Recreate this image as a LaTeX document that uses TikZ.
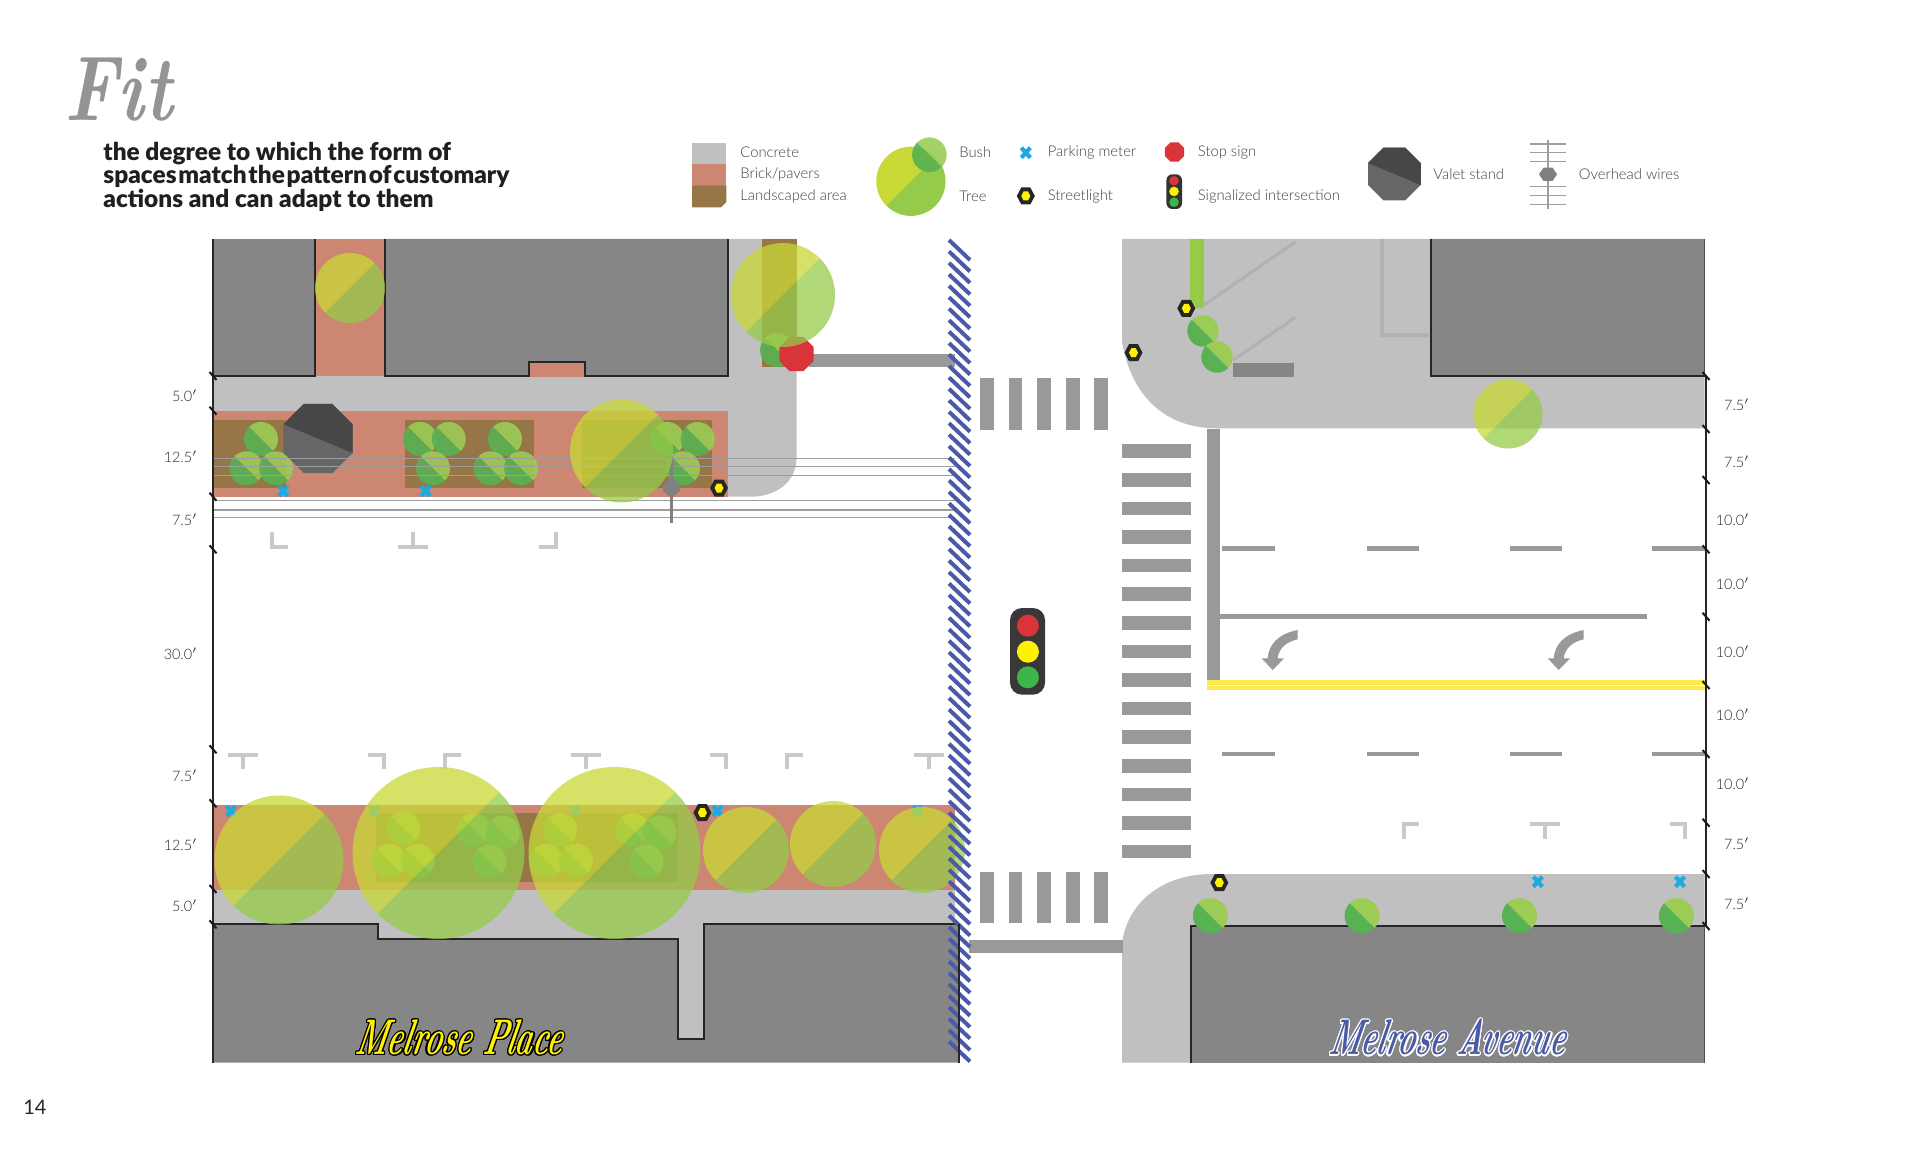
\documentclass[tikz,border=0pt]{standalone}
\usepackage{fontspec}
\usepackage[copies]{contour}
\setmainfont{Lato}
\newfontfamily\lightfont{Lato Light}
\newfontfamily\blackfont{Lato Black}
\newfontfamily\titleface{Latin Modern Roman}[FakeStretch=0.8]
\newfontfamily\nameface{Latin Modern Roman}[FakeStretch=0.585, FakeSlant=0.2]
\usetikzlibrary{calc}
\definecolor{concrete}{HTML}{C0C0C0}
\definecolor{brick}{HTML}{CC8672}
\definecolor{landscaped}{HTML}{967547}
\definecolor{building}{HTML}{868686}
\definecolor{marking}{HTML}{999999}
\definecolor{stall}{HTML}{C9C9C9}
\definecolor{hatchblue}{HTML}{4A5AA8}
\definecolor{treeA}{HTML}{C8D935}
\definecolor{treeB}{HTML}{96CB4A}
\definecolor{bushA}{HTML}{9CCC56}
\definecolor{bushB}{HTML}{58B153}
\definecolor{meterblue}{HTML}{1FA9E1}
\definecolor{stopred}{HTML}{D9343A}
\definecolor{signalgreen}{HTML}{3DB54A}
\definecolor{laneyellow}{HTML}{FBE94F}
\tikzset{
	legendtext/.style={anchor=west, text=black!75, font=\lightfont\fontsize{7.4}{9}\selectfont, inner sep=0pt},
	dimtext/.style={anchor=east, text=black!85, font=\lightfont\fontsize{7.2}{9}\selectfont, inner sep=0pt},
	nametext/.style={inner sep=0pt, font=\nameface\bfseries\itshape\fontsize{25}{25}\selectfont},
	wireline/.style={line width=0.6pt, color=black!38},
	stallmark/.style={line width=2pt, color=stall},
	edgeline/.style={line width=1pt, color=black!85}
}
\def\treemark[#1](#2,#3)(#4){
	\fill[treeA, opacity=#1] ($(#2,#3)+(-45:#4)$) arc (-45:-225:#4) -- cycle;
	\fill[treeB, opacity=#1] ($(#2,#3)+(-45:#4)$) arc (-45:135:#4) -- cycle;
}
\def\bushmark[#1](#2,#3)(#4){
	\fill[bushA, opacity=#1] ($(#2,#3)+(45:#4)$) arc (45:-135:#4) -- cycle;
	\fill[bushB, opacity=#1] ($(#2,#3)+(45:#4)$) arc (45:225:#4) -- cycle;
}
\def\metermark(#1,#2){
	\draw[line width=2.1pt, color=meterblue] (#1-4.5,#2-5) -- (#1+4.5,#2+5) (#1-4.5,#2+5) -- (#1+4.5,#2-5);
}
\def\lightmark(#1,#2){
	\fill[black!85] (#1-9,#2) -- (#1-4.5,#2-8.5) -- (#1+4.5,#2-8.5) -- (#1+9,#2) -- (#1+4.5,#2+8.5) -- (#1-4.5,#2+8.5) -- cycle;
	\fill[yellow] (#1-4.5,#2) -- (#1-2.2,#2-4.5) -- (#1+2.2,#2-4.5) -- (#1+4.5,#2) -- (#1+2.2,#2+4.5) -- (#1-2.2,#2+4.5) -- cycle;
}
\def\octagon[#1](#2,#3)(#4){
	\fill[#1] (#2,#3)+(22.5:#4) -- +(67.5:#4) -- +(112.5:#4) -- +(157.5:#4) -- +(202.5:#4) -- +(247.5:#4) -- +(292.5:#4) -- +(337.5:#4) -- cycle;
}
\def\valetmark(#1,#2)(#3){
	\begin{scope}
		\clip (#1,#2)+(22.5:#3) -- +(67.5:#3) -- +(112.5:#3) -- +(157.5:#3) -- +(202.5:#3) -- +(247.5:#3) -- +(292.5:#3) -- +(337.5:#3) -- cycle;
		\fill[black!60] (#1-#3-5,#2-#3-5) rectangle (#1+#3+5,#2+#3+5);
		\fill[black!72] (#1-#3*1.2,#2-#3*0.5) -- (#1+#3*1.2,#2+#3*0.5) -- (#1+#3*1.2,#2-#3-5) -- (#1-#3*1.2,#2-#3-5) -- cycle;
	\end{scope}
}
\def\tick(#1,#2){
	\draw[line width=1pt, color=black!90] (#1-3.5,#2-4) -- (#1+3.5,#2+4);
}
\def\turnarrow(#1){
	\fill[marking] (#1+25,630) .. controls (#1+5,634) and (#1-4,645) .. (#1-5,658.3) -- (#1-11,658.3) -- (#1,670) -- (#1+11.5,658.3) -- (#1+5,658.3) .. controls (#1+6,649) and (#1+13,642) .. (#1+25,639.3) -- cycle;
}
\begin{document}
\begin{tikzpicture}[x=0.5pt, y=-0.5pt]
	%%%%% PAGE %%%%%
	\useasboundingbox (0, 0) rectangle (1920, 1166);
	\fill[white] (0, 0) rectangle (1920, 1166);

	\node[anchor=west, inner sep=0pt, text=black!42, font=\titleface\bfseries\itshape\fontsize{46}{46}\selectfont] (fittitle) at (64, 90) {Fit};
	\node[anchor=west, inner sep=0pt, align=left, text=black!88, font=\blackfont\fontsize{12.2}{11.8}\selectfont] (fittext) at (103, 176.5) {the degree to which the form of\\{\spaceskip=0.9pt\relax spaces match the pattern of customary}\\actions and can adapt to them};
	\node[anchor=west, inner sep=0pt, text=black!85, font=\fontsize{10}{12}\selectfont] (pagenum) at (23, 1107.5) {14};

	%%%%% LEGEND %%%%%
	\fill[concrete] (692, 142.7) rectangle (726.3, 164.3);
	\fill[brick] (692, 164.3) rectangle (726.3, 185.7);
	\fill[landscaped] (692, 185.7) -- (726.3, 185.7) -- (726.3, 202) -- (721, 207.3) -- (692, 207.3) -- cycle;
	\node[legendtext] (lconcrete) at (740, 152.5) {Concrete};
	\node[legendtext] (lbrick) at (740, 174) {Brick/pavers};
	\node[legendtext] (lland) at (740, 196) {Landscaped area};

	\treemark[1](910.9, 181.3)(34.6)
	\bushmark[0.9](929.4, 154.7)(17.3)
	\node[legendtext] (lbush) at (959, 152.5) {Bush};
	\node[legendtext] (ltree) at (959, 196) {Tree};

	\metermark(1025.8, 152.7)
	\lightmark(1025.8, 196)
	\node[legendtext] (lmeter) at (1047.4, 152.5) {Parking meter};
	\node[legendtext] (llight) at (1047.4, 196) {Streetlight};

	\octagon[stopred](1174.5, 152)(10.5)
	\fill[black!80, rounded corners=3] (1166.4, 174.3) rectangle (1182, 209);
	\fill[stopred] (1174, 180.7) circle (4.8);
	\fill[yellow] (1174, 191.4) circle (4.8);
	\fill[signalgreen] (1174, 202.2) circle (4.8);
	\node[legendtext] (lstop) at (1197.5, 152.5) {Stop sign};
	\node[legendtext] (lsignal) at (1197.5, 196) {Signalized intersection};

	\valetmark(1394.4, 174)(28.5)
	\node[legendtext] (lvalet) at (1433, 174) {Valet stand};

	\draw[wireline, line width=0.8pt] (1547.8, 140) -- (1547.8, 209.3);
	\foreach \wy in {144, 152.7, 161.3, 186.7, 195.7, 204.3} {
		\draw[wireline, line width=0.7pt] (1530.2, \wy) -- (1566, \wy);
	}
	\fill[black!50] (1539, 174.3) -- (1543.5, 167.6) -- (1552.5, 167.6) -- (1557, 174.3) -- (1552.5, 181) -- (1543.5, 181) -- cycle;
	\node[legendtext] (lwires) at (1578.5, 174) {Overhead wires};

	%%%%% LEFT BLOCKS %%%%%
	\fill[concrete] (728, 239) -- (796.5, 239) -- (796.5, 458) .. controls (796.5, 482) and (776, 496.7) .. (751, 496.7) -- (213, 496.7) -- (213, 376) -- (728, 376) -- cycle;
	\fill[landscaped] (761.5, 239) rectangle (796.5, 367);
	\fill[brick] (315, 239) rectangle (385.4, 376);
	\fill[brick] (213, 411) rectangle (728, 496.7);
	\fill[landscaped] (213, 420) rectangle (285.5, 488.3);
	\fill[landscaped] (404.8, 420) rectangle (534, 488.3);
	\fill[landscaped] (582, 420) rectangle (711.8, 488.3);

	\fill[building] (213, 239) rectangle (315, 376);
	\fill[building] (385.4, 239) -- (728, 239) -- (728, 376) -- (584.7, 376) -- (584.7, 361.7) -- (528.7, 361.7) -- (528.7, 376) -- (385.4, 376) -- cycle;
	\fill[brick] (528.7, 361.7) rectangle (584.7, 377);
	\draw[edgeline] (213, 376) -- (315, 376) -- (315, 239);
	\draw[edgeline] (385.4, 239) -- (385.4, 376) -- (528.7, 376) -- (528.7, 361.7) -- (584.7, 361.7) -- (584.7, 376) -- (728, 376) -- (728, 239);

	\fill[concrete] (213, 889) rectangle (955, 1039);
	\fill[brick] (213, 804.7) rectangle (955, 890);
	\fill[landscaped] (376, 813.3) rectangle (677.8, 881.7);
	\fill[building] (213, 924.3) -- (377.6, 924.3) -- (377.6, 939) -- (677.8, 939) -- (677.8, 1039) -- (704, 1039) -- (704, 924.3) -- (959, 924.3) -- (959, 1062.7) -- (213, 1062.7) -- cycle;
	\draw[edgeline] (213, 924.3) -- (377.6, 924.3) -- (377.6, 939) -- (677.8, 939) -- (677.8, 1039) -- (704, 1039) -- (704, 924.3) -- (959, 924.3);

	\foreach \bx/\by in {261/439, 246.3/468.3, 276/468.3, 420/439, 448.7/439, 433/468.3, 505/439, 490.5/468.3, 521/468.3, 667.3/439, 697.7/439, 683/468.3, 777/350,
		403.2/828.3, 389/860.7, 417.8/860.7, 473.8/830, 502.6/832.7, 489.5/861.7, 560/830, 546/860.7, 575.8/860.7, 632.3/830, 659.5/832.7, 646.4/861.7} {
		\bushmark[0.9](\bx, \by)(17)
	}

	\valetmark(318, 438.5)(37.5)

	\foreach \mx/\my in {283.4/491, 425.7/491, 231/811, 374.4/811, 574.7/811, 717.5/811, 917.3/811} {
		\metermark(\mx, \my)
	}

	\foreach \wy in {458.7, 466.7, 475.7, 500.7, 510, 517.7} {
		\draw[wireline] (213, \wy) -- (955, \wy);
	}
	\draw[line width=1.5pt, color=black!50] (671.5, 454) -- (671.5, 523.3);
	\fill[black!50] (671.5, 477) -- (680, 484) -- (680, 491) -- (671.5, 498) -- (663, 491) -- (663, 484) -- cycle;

	\lightmark(719, 488)
	\lightmark(702.4, 812.7)
	\fill[marking] (808.5, 354) rectangle (955, 367.3);
	\octagon[stopred](796.5, 354)(18.5)

	%%%%% STALLS %%%%%
	\draw[stallmark] (272.4, 531.7) -- (272.4, 547.3) -- (288, 547.3);
	\draw[stallmark] (398, 547.3) -- (427.8, 547.3) (412.8, 531.7) -- (412.8, 547.3);
	\draw[stallmark] (539, 547.3) -- (555.5, 547.3) -- (555.5, 531.7);
	\foreach \tx in {242.6, 585.5, 928.5} {
		\draw[stallmark] (\tx-15, 754.7) -- (\tx+15, 754.7) (\tx, 754.7) -- (\tx, 769.3);
	}
	\foreach \tx in {383.5, 726} {
		\draw[stallmark] (\tx-16, 754.7) -- (\tx, 754.7) -- (\tx, 769.3);
	}
	\foreach \tx in {444.5, 787} {
		\draw[stallmark] (\tx+16, 754.7) -- (\tx, 754.7) -- (\tx, 769.3);
	}

	%%%%% RIGHT BLOCKS %%%%%
	\fill[concrete] (1122, 239) -- (1704.6, 239) -- (1704.6, 428.3) -- (1217, 428.3) .. controls (1160, 428.3) and (1130, 390) .. (1122, 341.7) -- cycle;
	\draw[line width=1.6pt, color=black!30] (1204, 305) -- (1295.6, 241.7);
	\draw[line width=1.6pt, color=black!30] (1233, 360) -- (1295.6, 317.3);
	\draw[line width=1.6pt, color=black!30] (1382, 239) -- (1382, 335) -- (1429, 335);
	\fill[treeB] (1190, 239) rectangle (1204, 308);
	\fill[building] (1233, 363.3) rectangle (1294, 376.7);
	\fill[building] (1430.6, 239) rectangle (1704.6, 376);
	\draw[edgeline] (1430.6, 239) -- (1430.6, 376) -- (1704.6, 376);
	\bushmark[1](1203, 331)(15.7)
	\bushmark[1](1217, 357)(15.7)
	\lightmark(1186.3, 308.3)
	\lightmark(1133.5, 352.7)

	\fill[concrete] (1122, 1062.7) -- (1122, 943) .. controls (1128, 900) and (1165, 874) .. (1212, 874) -- (1704.6, 874) -- (1704.6, 1062.7) -- cycle;
	\fill[building] (1191, 926) rectangle (1704.6, 1062.7);
	\draw[edgeline] (1191, 1062.7) -- (1191, 926) -- (1704.6, 926);
	\foreach \bx in {1210.4, 1362, 1519.5, 1676.4} {
		\bushmark[1](\bx, 915.7)(17.5)
	}
	\lightmark(1219.3, 882.7)
	\metermark(1537.8, 881.7)
	\metermark(1680, 881.7)

	\draw[stallmark] (1418.5, 824.3) -- (1403.8, 824.3) -- (1403.8, 839.3);
	\draw[stallmark] (1530, 824.3) -- (1560, 824.3) (1545, 824.3) -- (1545, 839.3);
	\draw[stallmark] (1670, 824.3) -- (1685, 824.3) -- (1685, 839.3);

	%%%%% STREET %%%%%
	\foreach \cx in {980, 1008.5, 1037, 1066, 1094.3} {
		\fill[marking] (\cx, 377.7) rectangle (\cx+13.5, 430);
		\fill[marking] (\cx, 871.7) rectangle (\cx+13.5, 923.3);
	}
	\foreach \cn in {0, ..., 14} {
		\fill[marking] (1122, 444.3+\cn*28.6) rectangle (1191, 458+\cn*28.6);
	}
	\fill[marking] (1207.3, 429) rectangle (1220.3, 680.3);
	\fill[marking] (968.8, 940) rectangle (1123, 953.3);
	\foreach \dx in {1222.4, 1366.8, 1510, 1652.3} {
		\fill[marking] (\dx, 546) rectangle (\dx+52.3, 550.7);
		\fill[marking] (\dx, 751.7) rectangle (\dx+52.3, 756.3);
	}
	\fill[marking] (1220.3, 614.3) rectangle (1647, 619.3);
	\turnarrow(1272.6)
	\turnarrow(1558.7)
	\fill[laneyellow] (1207.3, 680.3) rectangle (1706, 684.8);
	\fill[laneyellow] (1207.3, 685.8) rectangle (1706, 690.3);

	\fill[black!78, rounded corners=6] (1010, 608) rectangle (1045, 694.7);
	\fill[stopred] (1027.9, 625.7) circle (11);
	\fill[yellow] (1027.9, 651.7) circle (11);
	\fill[signalgreen] (1027.9, 677.3) circle (11);

	%%%%% TREES %%%%%
	\foreach \tx/\ty/\tr in {350/288/35, 783/295/52, 621.5/451/51.5, 279/860/64.5, 438.5/853/86, 614.5/853/86, 746/850/43, 833/844/43, 922/850/43, 1508/414/34.5} {
		\treemark[0.75](\tx, \ty)(\tr)
	}

	%%%%% HATCH %%%%%
	\foreach \hn in {0, ..., 70} {
		\draw[line width=2pt, color=hatchblue] (949, 240+\hn*11.45) -- (970, 260+\hn*11.45);
	}

	%%%%% DIMENSIONS %%%%%
	\draw[edgeline] (213, 239) -- (213, 1062.7);
	\draw[edgeline] (959, 924.3) -- (959, 1062.7);
	\draw[edgeline] (1706, 376) -- (1706, 926);
	\draw[line width=0.6pt, color=black!70] (1704.6, 239) -- (1704.6, 376);
	\draw[line width=0.6pt, color=black!70] (1704.6, 926) -- (1704.6, 1062.7);
	\foreach \dy in {376, 410.7, 496.7, 549.3, 749.3, 803.3, 889, 924.3} {
		\tick(213, \dy)
	}
	\foreach \dy in {376, 429, 480, 549.3, 616.7, 685, 754, 822.7, 874, 926} {
		\tick(1706, \dy)
	}

	\node[dimtext] (dl1) at (198, 396) {5.0$'$};
	\node[dimtext] (dl2) at (198, 456.7) {12.5$'$};
	\node[dimtext] (dl3) at (198, 519.3) {7.5$'$};
	\node[dimtext] (dl4) at (198, 654) {30.0$'$};
	\node[dimtext] (dl5) at (198, 776) {7.5$'$};
	\node[dimtext] (dl6) at (198, 844.3) {12.5$'$};
	\node[dimtext] (dl7) at (198, 905.7) {5.0$'$};

	\node[dimtext] (dr1) at (1750, 405) {7.5$'$};
	\node[dimtext] (dr2) at (1750, 461.7) {7.5$'$};
	\node[dimtext] (dr3) at (1750, 520) {10.0$'$};
	\node[dimtext] (dr4) at (1750, 583.3) {10.0$'$};
	\node[dimtext] (dr5) at (1750, 652) {10.0$'$};
	\node[dimtext] (dr6) at (1750, 715) {10.0$'$};
	\node[dimtext] (dr7) at (1750, 783.3) {10.0$'$};
	\node[dimtext] (dr8) at (1750, 843.3) {7.5$'$};
	\node[dimtext] (dr9) at (1750, 904) {7.5$'$};

	%%%%% STREET NAMES %%%%%
	\contourlength{0.6pt}
	\node[nametext, text=yellow] (placename) at (457.6, 1038) {\contour{black}{Melrose Place}};
	\node[nametext, text=hatchblue] (avenuename) at (1446, 1038) {\contour{white}{Melrose Avenue}};
\end{tikzpicture}
\end{document}
